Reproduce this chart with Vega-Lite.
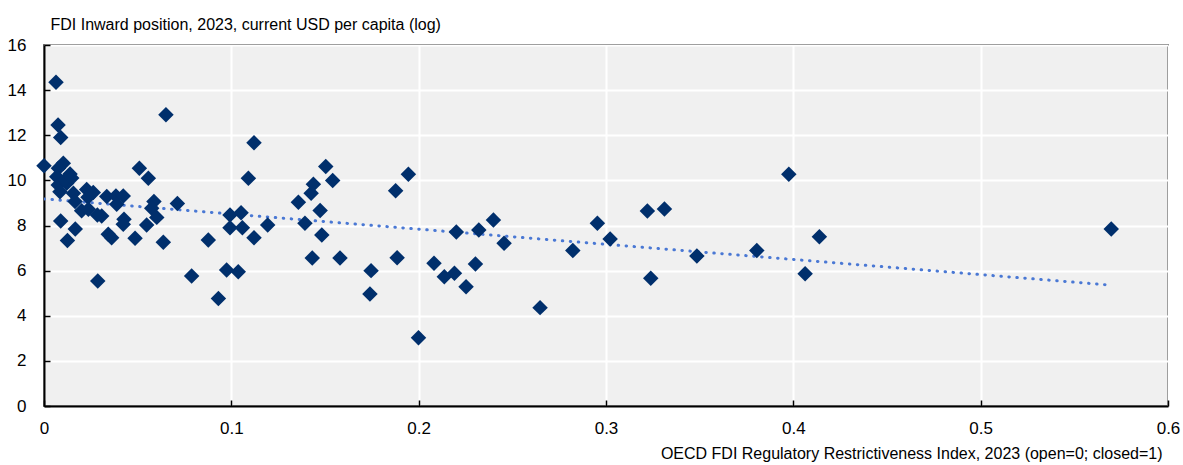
{
  "$schema": "https://vega.github.io/schema/vega-lite/v6.json",
  "width": 1124,
  "height": 361,
  "autosize": {"type": "none"},
  "padding": {"left": 44, "top": 45, "right": 15, "bottom": 59},
  "background": "white",
  "config": {
    "view": {"fill": "#f0f0f0", "stroke": "black", "strokeWidth": 1.5},
    "font": "Liberation Sans, Arial",
    "axis": {
      "labelFont": "Liberation Sans, Arial",
      "titleFont": "Liberation Sans, Arial",
      "labelFontSize": 17,
      "titleFontSize": 16,
      "titleFontWeight": "normal",
      "labelColor": "black",
      "titleColor": "black",
      "domainColor": "black",
      "domainWidth": 2,
      "tickColor": "black",
      "tickWidth": 1.5,
      "gridColor": "white",
      "gridWidth": 2,
      "gridOpacity": 1
    }
  },
  "datasets": {
    "points": [
      {"x": 0.0, "y": 10.65}, {"x": 0.0064, "y": 14.35}, {"x": 0.0075, "y": 12.45}, {"x": 0.0089, "y": 11.9},
      {"x": 0.0103, "y": 10.76}, {"x": 0.0077, "y": 10.54}, {"x": 0.0068, "y": 10.16}, {"x": 0.0139, "y": 10.28},
      {"x": 0.0076, "y": 9.8}, {"x": 0.0121, "y": 9.87}, {"x": 0.0112, "y": 10.02}, {"x": 0.0085, "y": 9.5},
      {"x": 0.0148, "y": 10.1}, {"x": 0.0157, "y": 9.43}, {"x": 0.0166, "y": 9.06}, {"x": 0.0228, "y": 9.6},
      {"x": 0.0263, "y": 9.46}, {"x": 0.0235, "y": 9.25}, {"x": 0.0201, "y": 8.65}, {"x": 0.0237, "y": 8.72},
      {"x": 0.0285, "y": 8.47}, {"x": 0.0308, "y": 8.42}, {"x": 0.0089, "y": 8.2}, {"x": 0.0125, "y": 7.33},
      {"x": 0.0167, "y": 7.85}, {"x": 0.0287, "y": 5.54}, {"x": 0.0335, "y": 9.28}, {"x": 0.0384, "y": 9.31},
      {"x": 0.0388, "y": 8.94}, {"x": 0.0423, "y": 9.31}, {"x": 0.0343, "y": 7.61}, {"x": 0.0361, "y": 7.46},
      {"x": 0.0427, "y": 8.28}, {"x": 0.0423, "y": 8.05}, {"x": 0.0486, "y": 7.43}, {"x": 0.0509, "y": 10.54},
      {"x": 0.0557, "y": 10.09}, {"x": 0.0548, "y": 8.02}, {"x": 0.0587, "y": 9.06}, {"x": 0.0575, "y": 8.76},
      {"x": 0.0602, "y": 8.36}, {"x": 0.0637, "y": 7.26}, {"x": 0.0651, "y": 12.91}, {"x": 0.0712, "y": 8.98},
      {"x": 0.0788, "y": 5.76}, {"x": 0.0877, "y": 7.36}, {"x": 0.0931, "y": 4.76}, {"x": 0.0975, "y": 6.03},
      {"x": 0.1037, "y": 5.95}, {"x": 0.0993, "y": 8.47}, {"x": 0.1052, "y": 8.57}, {"x": 0.0993, "y": 7.9},
      {"x": 0.1059, "y": 7.9}, {"x": 0.1121, "y": 7.46}, {"x": 0.1194, "y": 8.02}, {"x": 0.1091, "y": 10.09},
      {"x": 0.1121, "y": 11.67}, {"x": 0.1358, "y": 9.03}, {"x": 0.1393, "y": 8.1}, {"x": 0.1426, "y": 9.43},
      {"x": 0.1438, "y": 9.83}, {"x": 0.1474, "y": 8.66}, {"x": 0.1483, "y": 7.58}, {"x": 0.1432, "y": 6.56},
      {"x": 0.1504, "y": 10.61}, {"x": 0.1541, "y": 9.99}, {"x": 0.158, "y": 6.56}, {"x": 0.1746, "y": 6.0},
      {"x": 0.174, "y": 4.96}, {"x": 0.1877, "y": 9.54}, {"x": 0.1945, "y": 10.27}, {"x": 0.1885, "y": 6.57},
      {"x": 0.2082, "y": 6.33}, {"x": 0.1999, "y": 3.03}, {"x": 0.2137, "y": 5.73}, {"x": 0.2191, "y": 5.88},
      {"x": 0.2201, "y": 7.71}, {"x": 0.2253, "y": 5.29}, {"x": 0.2303, "y": 6.29}, {"x": 0.2321, "y": 7.8},
      {"x": 0.2399, "y": 8.24}, {"x": 0.2456, "y": 7.21}, {"x": 0.2648, "y": 4.36}, {"x": 0.2823, "y": 6.89},
      {"x": 0.2954, "y": 8.1}, {"x": 0.3022, "y": 7.4}, {"x": 0.3221, "y": 8.64}, {"x": 0.3312, "y": 8.73},
      {"x": 0.3239, "y": 5.66}, {"x": 0.3485, "y": 6.65}, {"x": 0.3805, "y": 6.89}, {"x": 0.3976, "y": 10.27},
      {"x": 0.4063, "y": 5.86}, {"x": 0.4139, "y": 7.5}, {"x": 0.5697, "y": 7.85}
    ],
    "trend": [
      {"x": 0.0, "y": 9.18},
      {"x": 0.569, "y": 5.36}
    ]
  },
  "layer": [
    {
      "data": {"name": "trend"},
      "mark": {"type": "line", "color": "#4a78d4", "strokeWidth": 3, "strokeDash": [0.5, 7.5], "strokeCap": "round", "clip": true},
      "encoding": {
        "x": {
          "field": "x", "type": "quantitative",
          "scale": {"domain": [0, 0.6], "nice": false, "zero": false},
          "axis": {
            "values": [0, 0.1, 0.2, 0.3, 0.4, 0.5, 0.6],
            "format": ".1~f",
            "grid": true,
            "tickSize": -6,
            "labelPadding": 20,
            "labelFlush": false,
            "title": "OECD FDI Regulatory Restrictiveness Index, 2023 (open=0; closed=1)",
            "titleAnchor": "end",
            "titleAlign": "right",
            "titleBaseline": "middle",
            "titleX": 1118,
            "titleY": 47
          }
        },
        "y": {
          "field": "y", "type": "quantitative",
          "scale": {"domain": [0, 16], "nice": false},
          "axis": {
            "values": [0, 2, 4, 6, 8, 10, 12, 14, 16],
            "format": "d",
            "grid": true,
            "tickSize": -6,
            "labelPadding": 24,
            "labelFlush": false,
            "title": "FDI Inward position, 2023, current USD per capita (log)",
            "titleAngle": 0,
            "titleAlign": "left",
            "titleBaseline": "middle",
            "titleAnchor": "start",
            "titleX": 6,
            "titleY": -21
          }
        }
      }
    },
    {
      "data": {"name": "points"},
      "mark": {"type": "point", "shape": "diamond", "filled": true, "size": 240, "color": "#002f6c", "opacity": 1},
      "encoding": {
        "x": {"field": "x", "type": "quantitative"},
        "y": {"field": "y", "type": "quantitative"}
      }
    }
  ]
}
